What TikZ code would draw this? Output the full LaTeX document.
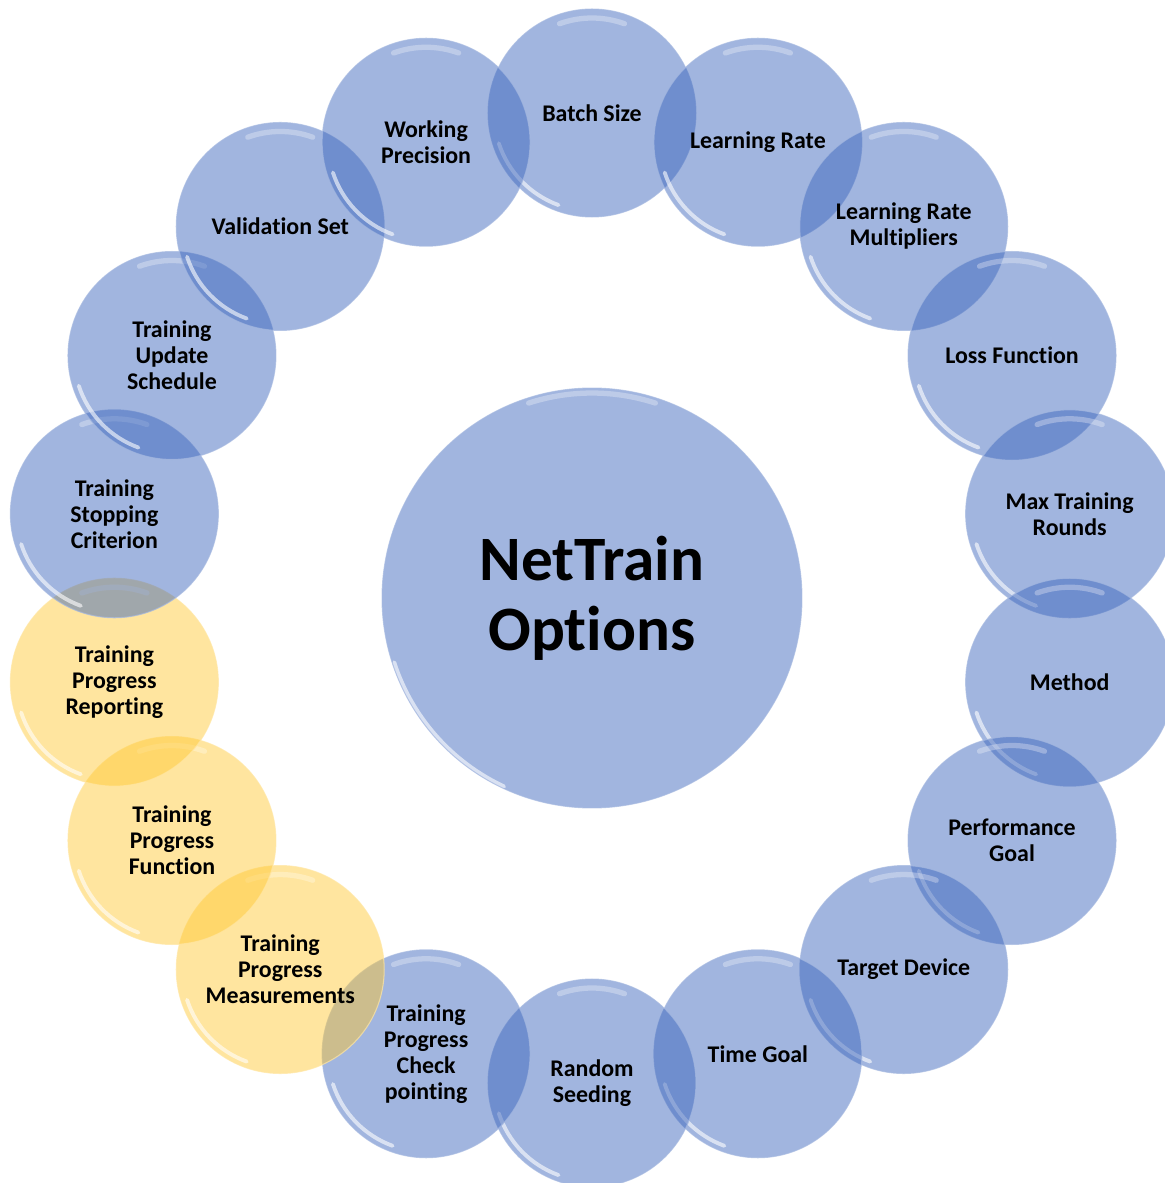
\documentclass[tikz,border=0pt]{standalone}
\usepackage{fontspec}
\setmainfont{Carlito}[Ligatures=NoCommon]
\usepackage{tikz}
\definecolor{bubbleblue}{RGB}{55,98,187}
\definecolor{bubbleyellow}{RGB}{255,200,50}

\begin{document}
\begin{tikzpicture}[x=0.02cm, y=0.02cm,
  bubble/.style={circle, minimum size=4.16cm, inner sep=0pt, fill=#1, fill opacity=0.47,
    draw=#1!45, draw opacity=0.7, line width=0.6pt,
    path picture={
      \draw[white, draw opacity=0.6, line width=2.2pt, line cap=round]
        ([shift={(198:1.96cm)}]path picture bounding box.center) arc (198:250:1.96cm);
      \draw[white, draw opacity=0.3, line width=3pt, line cap=round]
        ([shift={(70:1.9cm)}]path picture bounding box.center) arc (70:110:1.9cm);
    }},
  bubble/.default=bubbleblue,
  hub/.style={circle, minimum size=8.4cm, inner sep=0pt, fill=bubbleblue, fill opacity=0.47,
    text opacity=1, draw=bubbleblue!45, draw opacity=0.7, line width=0.6pt, align=center,
    font=\bfseries\fontsize{36}{40}\selectfont,
    path picture={
      \draw[white, draw opacity=0.6, line width=2.2pt, line cap=round]
        ([shift={(198:4.16cm)}]path picture bounding box.center) arc (198:245:4.16cm);
      \draw[white, draw opacity=0.3, line width=3pt, line cap=round]
        ([shift={(72:4.1cm)}]path picture bounding box.center) arc (72:108:4.1cm);
    }},
  lbl/.style={font=\bfseries\fontsize{13.6}{14.8}\selectfont, align=center, text=black}]
\useasboundingbox (-592,-585) rectangle (573,598);
\clip (-592,-585) rectangle (573,598);

% Centre
\node[hub] (nettrain) at (0,0) {NetTrain\\Options};

% Ring of options
\node[bubble] (batch) at (90:485) {};
\node[bubble] (lrate) at (70:485) {};
\node[bubble] (lrmult) at (50:485) {};
\node[bubble] (loss) at (30:485) {};
\node[bubble] (maxrounds) at (10:485) {};
\node[bubble] (method) at (-10:485) {};
\node[bubble] (perfgoal) at (-30:485) {};
\node[bubble] (device) at (-50:485) {};
\node[bubble] (timegoal) at (-70:485) {};
\node[bubble] (seeding) at (-90:485) {};
\node[bubble] (checkpt) at (-110:485) {};
\node[bubble=bubbleyellow] (measure) at (-130:485) {};
\node[bubble=bubbleyellow] (progfn) at (-150:485) {};
\node[bubble=bubbleyellow] (report) at (-170:485) {};
\node[bubble] (stopping) at (170:485) {};
\node[bubble] (update) at (150:485) {};
\node[bubble] (valset) at (130:485) {};
\node[bubble] (precision) at (110:485) {};

% Labels on top
\node[lbl] (batch-t) at (batch) {Batch Size};
\node[lbl] (lrate-t) at (lrate) {Learning Rate};
\node[lbl] (lrmult-t) at (lrmult) {Learning Rate\\Multipliers};
\node[lbl] (loss-t) at (loss) {Loss Function};
\node[lbl] (maxrounds-t) at (maxrounds) {Max Training\\Rounds};
\node[lbl] (method-t) at (method) {Method};
\node[lbl] (perfgoal-t) at (perfgoal) {Performance\\Goal};
\node[lbl] (device-t) at (device) {Target Device};
\node[lbl] (timegoal-t) at (timegoal) {Time Goal};
\node[lbl] (seeding-t) at (seeding) {Random\\Seeding};
\node[lbl] (checkpt-t) at (checkpt) {Training\\Progress\\Check\\pointing};
\node[lbl] (measure-t) at (measure) {Training\\Progress\\Measurements};
\node[lbl] (progfn-t) at (progfn) {Training\\Progress\\Function};
\node[lbl] (report-t) at (report) {Training\\Progress\\Reporting};
\node[lbl] (stopping-t) at (stopping) {Training\\Stopping\\Criterion};
\node[lbl] (update-t) at (update) {Training\\Update\\Schedule};
\node[lbl] (valset-t) at (valset) {Validation Set};
\node[lbl] (precision-t) at (precision) {Working\\Precision};
\end{tikzpicture}
\end{document}
